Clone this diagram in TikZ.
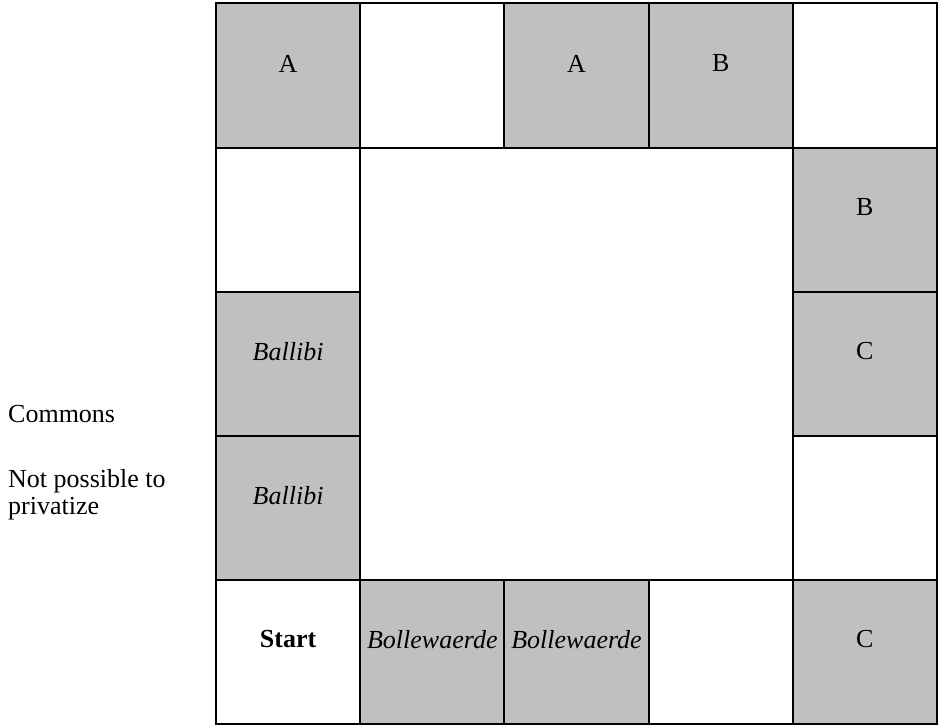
\documentclass[tikz,border=0pt]{standalone}
\usepackage{fontspec}
\setmainfont{Liberation Serif}
\definecolor{cellgray}{HTML}{C0C0C0}
\tikzset{
  cellbox/.style={draw=black, line width=2pt, rectangle, minimum width=144.2pt, minimum height=144pt, inner sep=0pt, outer sep=0pt},
  grayc/.style={cellbox, fill=cellgray},
  whitec/.style={cellbox, fill=white},
  celltext/.style={font=\fontsize{26}{30}\selectfont, inner sep=0pt},
  sidetext/.style={font=\fontsize{26}{27}\selectfont, inner sep=0pt, anchor=base west, align=left}
}
\newcommand{\mycell}[5]{%
  \node[#4] (#1) at ({216+144.2*(#2+0.5)},{3.5+144*(#3+0.5)}) {};
  \node[celltext] (#1t) at ([yshift=12pt]#1.center) {#5};
}
\begin{document}
\begin{tikzpicture}[x=1pt,y=-1pt]
\useasboundingbox (0,0) rectangle (938,725);
% top row
\mycell{r0c0}{0}{0}{grayc}{A}
\mycell{r0c1}{1}{0}{whitec}{}
\mycell{r0c2}{2}{0}{grayc}{A}
\mycell{r0c3}{3}{0}{grayc}{B}
\mycell{r0c4}{4}{0}{whitec}{}
% left column
\mycell{r1c0}{0}{1}{whitec}{}
\mycell{r2c0}{0}{2}{grayc}{\itshape Ballibi}
\mycell{r3c0}{0}{3}{grayc}{\itshape Ballibi}
% right column
\mycell{r1c4}{4}{1}{grayc}{B}
\mycell{r2c4}{4}{2}{grayc}{C}
\mycell{r3c4}{4}{3}{whitec}{}
% bottom row
\mycell{r4c0}{0}{4}{whitec}{\bfseries Start}
\mycell{r4c1}{1}{4}{grayc}{\itshape Bollewaerde}
\mycell{r4c2}{2}{4}{grayc}{\itshape Bollewaerde}
\mycell{r4c3}{3}{4}{whitec}{}
\mycell{r4c4}{4}{4}{grayc}{C}
% side texts
\node[sidetext] (commons) at (8,422) {Commons};
\node[sidetext] (notpriv) at (8,514) {Not possible to\\privatize};
\end{tikzpicture}
\end{document}
